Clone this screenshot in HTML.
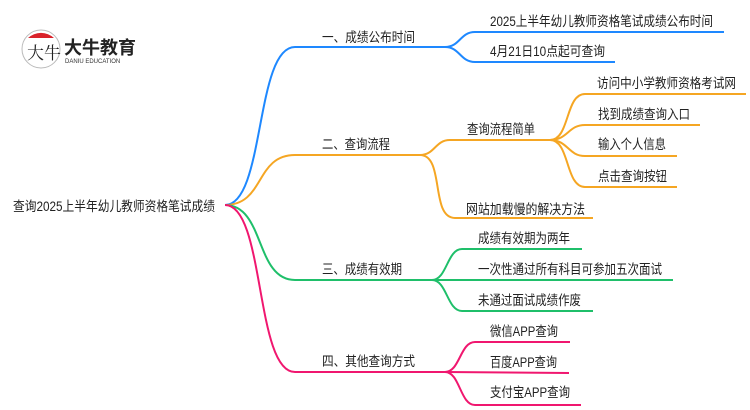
<!DOCTYPE html>
<html><head><meta charset="utf-8"><style>
html,body{margin:0;padding:0;background:#fff;}
svg{display:block}
text{font-family:"Liberation Sans","Noto Sans CJK SC",sans-serif;font-size:13.5px;fill:#222;}
</style></head><body>
<svg width="750" height="410" viewBox="0 0 750 410" xmlns="http://www.w3.org/2000/svg">
<g fill="none" stroke-width="2">
<g stroke="#1e88ff">
<path d="M225,205 C265,205 255,47 295,47 L445,47"/>
<path d="M445,47 C460,47 460,32 475,32 L724,32"/>
<path d="M445,47 C460,47 460,62 475,62 L615,62"/>
</g>
<g stroke="#f5a623">
<path d="M225,205 C265,205 255,155 295,155 L420,155"/>
<path d="M420,155 C435,155 435,140 450,140 L550,140"/>
<path d="M420,155 C445,155 430,218 455,218 L593,218"/>
<path d="M550,140 C570,140 565,94 585,94 L746,94"/>
<path d="M550,140 C568,140 568,125 585,125 L700,125"/>
<path d="M550,140 C568,140 568,156 585,156 L677,156"/>
<path d="M550,140 C570,140 565,187 585,187 L677,187"/>
</g>
<g stroke="#1fbf6a">
<path d="M225,205 C265,205 255,280 295,280 L432,280"/>
<path d="M432,280 C447,280 447,249 462,249 L582,249"/>
<path d="M432,280 L673,280"/>
<path d="M432,280 C447,280 447,311 462,311 L593,311"/>
</g>
<g stroke="#f0176f">
<path d="M225,205 C265,205 255,372 295,372 L445,372"/>
<path d="M445,372 C460,372 460,342 475,342 L570,342"/>
<path d="M445,372 L569,373"/>
<path d="M445,372 C460,372 460,405 475,405 L581,405"/>
</g>
</g>
<circle cx="41" cy="49" r="19" fill="#fff" stroke="#bbb" stroke-width="1"/>
<path d="M28,38 A19,19 0 0 1 54,38 Z" fill="#d9222a"/>
<text x="27" y="59" style="font-size:17px;font-family:'Liberation Serif','Noto Serif CJK SC',serif">大牛</text>
<text x="64" y="54" style="font-size:18px;font-weight:bold;fill:#222">大牛教育</text>
<text x="65" y="63" style="font-size:6px;fill:#333">DANIU EDUCATION</text>
<text x="13" y="211" textLength="202" lengthAdjust="spacingAndGlyphs">查询2025上半年幼儿教师资格笔试成绩</text>
<text x="322" y="42" textLength="93" lengthAdjust="spacingAndGlyphs">一、成绩公布时间</text>
<text x="490" y="26" textLength="223" lengthAdjust="spacingAndGlyphs">2025上半年幼儿教师资格笔试成绩公布时间</text>
<text x="490" y="56" textLength="115" lengthAdjust="spacingAndGlyphs">4月21日10点起可查询</text>
<text x="322" y="149" textLength="68" lengthAdjust="spacingAndGlyphs">二、查询流程</text>
<text x="467" y="134" textLength="68" lengthAdjust="spacingAndGlyphs">查询流程简单</text>
<text x="466" y="214" textLength="119" lengthAdjust="spacingAndGlyphs">网站加载慢的解决方法</text>
<text x="597" y="88" textLength="139" lengthAdjust="spacingAndGlyphs">访问中小学教师资格考试网</text>
<text x="598" y="119" textLength="92" lengthAdjust="spacingAndGlyphs">找到成绩查询入口</text>
<text x="598" y="149" textLength="68" lengthAdjust="spacingAndGlyphs">输入个人信息</text>
<text x="598" y="181" textLength="69" lengthAdjust="spacingAndGlyphs">点击查询按钮</text>
<text x="322" y="274" textLength="80" lengthAdjust="spacingAndGlyphs">三、成绩有效期</text>
<text x="478" y="243" textLength="92" lengthAdjust="spacingAndGlyphs">成绩有效期为两年</text>
<text x="478" y="274" textLength="184" lengthAdjust="spacingAndGlyphs">一次性通过所有科目可参加五次面试</text>
<text x="478" y="305" textLength="103" lengthAdjust="spacingAndGlyphs">未通过面试成绩作废</text>
<text x="322" y="366" textLength="93" lengthAdjust="spacingAndGlyphs">四、其他查询方式</text>
<text x="490" y="336" textLength="68" lengthAdjust="spacingAndGlyphs">微信APP查询</text>
<text x="490" y="367" textLength="67" lengthAdjust="spacingAndGlyphs">百度APP查询</text>
<text x="490" y="397" textLength="80" lengthAdjust="spacingAndGlyphs">支付宝APP查询</text>
</svg>
</body></html>
